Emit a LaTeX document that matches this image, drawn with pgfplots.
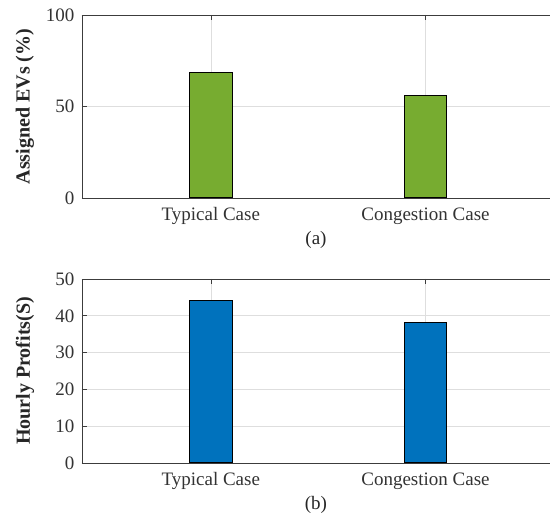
\documentclass[border=0pt]{standalone}
\usepackage{pgfplots}
\pgfplotsset{compat=1.18}
\usepackage{fontspec}
\setmainfont{Liberation Serif}
\definecolor{mgreen}{RGB}{119,172,48}
\definecolor{mblue}{RGB}{0,114,189}
\definecolor{axgray}{RGB}{60,60,60}
\definecolor{gridgray}{RGB}{222,222,222}
\pgfplotsset{
  mystyle/.style={
    scale only axis,
    width=468pt,
    xmin=0.4, xmax=2.58,
    axis x line*=box, axis y line*=left,
    axis line style={axgray, line width=0.9pt},
    xtick={1,2},
    xticklabels={Typical Case, Congestion Case},
    tick align=inside,
    major tick length=5pt,
    tick style={axgray, line width=0.6pt},
    grid=major,
    major grid style={gridgray, line width=0.6pt},
    ticklabel style={font=\fontsize{19}{22}\selectfont, text=black!80},
    /pgf/number format/assume math mode=true,
    xticklabel style={yshift=-6pt},
    yticklabel style={xshift=-4pt},
    every axis y label/.style={at={(axis description cs:0,0.5)}, xshift=-57pt, rotate=90, anchor=center, font=\fontsize{20}{22}\selectfont\bfseries, text=black!85},
    every axis x label/.style={at={(axis description cs:0.5,0)}, yshift=-42pt, anchor=center, font=\fontsize{19}{22}\selectfont, text=black!85},
    every axis plot/.append style={ybar, bar width=0.2, draw=black, line width=1pt},
  }
}
\begin{document}
\begin{tikzpicture}
\begin{axis}[mystyle, anchor=north west, at={(0pt,0pt)}, height=183pt,
  ymin=0, ymax=100, ytick={0,50,100},
  ylabel={Assigned EVs (\%)}, xlabel={(a)}]
\addplot[fill=mgreen] coordinates {(1,68.7) (2,55.9)};
\end{axis}
\begin{axis}[mystyle, anchor=north west, at={(0pt,-264pt)}, height=184pt,
  ymin=0, ymax=50, ytick={0,10,20,30,40,50},
  ylabel={Hourly Profits(S)}, xlabel={(b)}]
\addplot[fill=mblue] coordinates {(1,44.2) (2,38.2)};
\end{axis}
\pgfresetboundingbox
\path (-82pt,15pt) rectangle (468pt,-506pt);
\end{tikzpicture}
\end{document}
